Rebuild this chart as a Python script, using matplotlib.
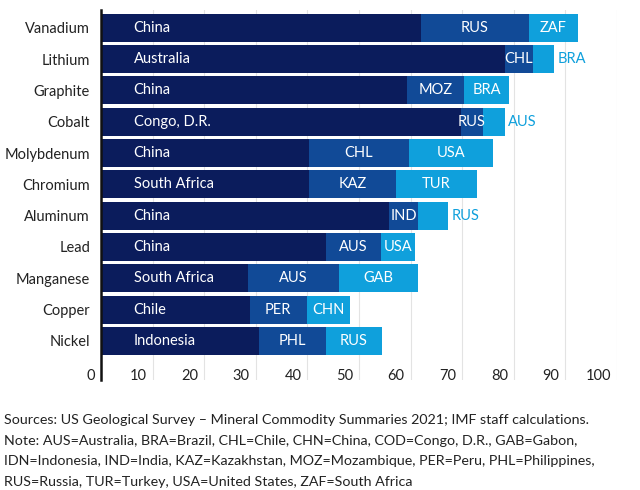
import numpy as np
import matplotlib
matplotlib.use("Agg")
import matplotlib.pyplot as plt
from matplotlib.transforms import ScaledTranslation

plt.rcParams['font.family'] = ['Lato', 'DejaVu Sans']

# data (shares of world production, %)
minerals = ['Vanadium', 'Lithium', 'Graphite', 'Cobalt', 'Molybdenum', 'Chromium',
            'Aluminum', 'Lead', 'Manganese', 'Copper', 'Nickel']
top1 = ['China', 'Australia', 'China', 'Congo, D.R.', 'China', 'South Africa',
        'China', 'China', 'South Africa', 'Chile', 'Indonesia']
top2 = ['RUS', 'CHL', 'MOZ', 'RUS', 'CHL', 'KAZ', 'IND', 'AUS', 'AUS', 'PER', 'PHL']
top3 = ['ZAF', 'BRA', 'BRA', 'AUS', 'USA', 'TUR', 'RUS', 'USA', 'GAB', 'CHN', 'RUS']
share1 = [62.0, 78.3, 59.3, 69.7, 40.3, 40.3, 55.9, 43.6, 28.4, 28.8, 30.6]
share2 = [20.9, 5.4, 11.1, 4.4, 19.4, 16.8, 5.6, 10.7, 17.8, 11.1, 12.9]
share3 = [9.5, 4.1, 8.6, 4.1, 16.2, 15.7, 5.8, 6.6, 15.2, 8.3, 11.0]
xticks = [0, 10, 20, 30, 40, 50, 60, 70, 80, 90, 100]

footer = [
    "Sources: US Geological Survey \u2013 Mineral Commodity Summaries 2021; IMF staff calculations.",
    "Note: AUS=Australia, BRA=Brazil, CHL=Chile, CHN=China, COD=Congo, D.R., GAB=Gabon,",
    "IDN=Indonesia, IND=India, KAZ=Kazakhstan, MOZ=Mozambique, PER=Peru, PHL=Philippines,",
    "RUS=Russia, TUR=Turkey, USA=United States, ZAF=South Africa",
]

c1 = '#0b1c5c'
c2 = '#114a97'
c3 = '#0fa0dc'

s1 = np.array(share1)
s2 = np.array(share2)
s3 = np.array(share3)
y = np.arange(len(minerals))

fig = plt.figure(figsize=(6.4, 4.9), dpi=100)
ax = fig.add_axes([0.158, 0.2245, 0.806, 0.7555])

h = 0.895
ax.barh(y, s1, height=h, color=c1, zorder=2)
ax.barh(y, s2, left=s1, height=h, color=c2, zorder=2)
ax.barh(y, s3, left=s1 + s2, height=h, color=c3, zorder=2)

fs = 10.5
for i in range(len(minerals)):
    ax.text(6.3, y[i], top1[i], color='white', fontsize=fs, va='center', ha='left', zorder=3)
    ax.text(s1[i] + s2[i] / 2, y[i], top2[i], color='white', fontsize=fs,
            va='center', ha='center', zorder=3)
    end = s1[i] + s2[i] + s3[i]
    if s3[i] < 6:
        ax.text(end + 0.7, y[i], top3[i], color=c3, fontsize=fs, va='center', ha='left', zorder=3)
    else:
        ax.text(s1[i] + s2[i] + s3[i] / 2, y[i], top3[i], color='white', fontsize=fs,
                va='center', ha='center', zorder=3)

ax.set_xlim(0, 100)
ax.set_ylim(11.25, -0.575)
ax.set_yticks(y)
ax.set_yticklabels(minerals, fontsize=fs, color='#222222')
ax.tick_params(axis='y', length=0, pad=8)

ax.set_xticks(xticks)
ax.set_xticklabels([str(t) for t in xticks], fontsize=fs, color='#222222', ha='right')
ax.tick_params(axis='x', length=0, pad=-8)
offset = ScaledTranslation(-6 / 100, 0, fig.dpi_scale_trans)
for lab in ax.get_xticklabels():
    lab.set_transform(lab.get_transform() + offset)

ax.grid(axis='x', color='#e3e3e3', linewidth=0.8, zorder=0)
ax.set_axisbelow(True)
for side in ['top', 'right', 'bottom']:
    ax.spines[side].set_visible(False)
ax.spines['left'].set_linewidth(1.8)
ax.spines['left'].set_color('#111111')

for k, line in enumerate(footer):
    fig.text(0.006, 1 - (420 + 20.5 * k) / 490, line, fontsize=10.3, color='#222222',
             va='center', ha='left')

fig.savefig('out.png', dpi=100, facecolor='white')
